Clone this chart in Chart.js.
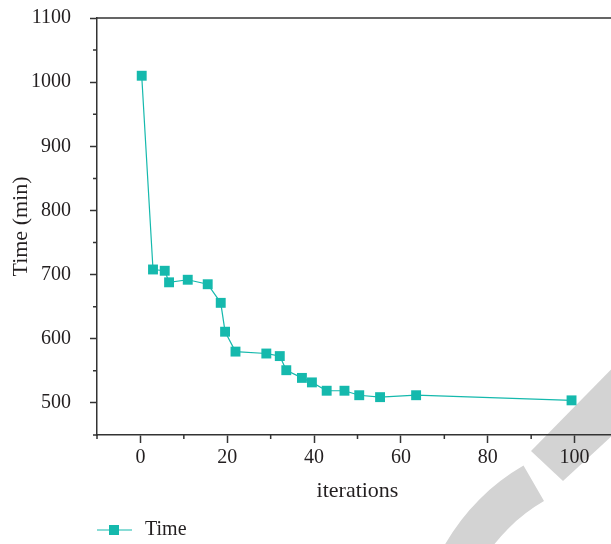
<!DOCTYPE html>
<html>
<head>
<meta charset="utf-8">
<script src="https://cdn.jsdelivr.net/npm/chart.js@4/dist/chart.umd.min.js"></script>
<style>
  html, body { margin: 0; padding: 0; background: #fff; overflow: hidden; }
  #wrap { width: 611px; height: 544px; overflow: hidden; }
</style>
</head>
<body>
<div id="wrap"><canvas id="myChart" width="640" height="544"></canvas></div>
<script>
// values
const iterations = [0.3, 2.9, 5.6, 6.6, 10.9, 15.5, 18.5, 19.5, 21.9, 29.0, 32.1, 33.6, 37.2, 39.5, 42.9, 47.0, 50.4, 55.2, 63.5, 99.3];
const timeMin = [1010, 708, 706, 688, 692, 685, 656, 611, 580, 577, 573, 551, 539, 532, 519, 519, 512, 509, 512, 504];
const xTicks = [0, 20, 40, 60, 80, 100];
const yTicks = [500, 600, 700, 800, 900, 1000, 1100];
const seriesName = "Time";

const teal = "#15b9ad";
const axisColor = "#333333";
const textColor = "#231f20";
const serif = "'Liberation Serif', 'DejaVu Serif', serif";

let points = [];
for (let i = 0; i < iterations.length; i++) {
	points.push({ x: iterations[i], y: timeMin[i] });
}

// minor ticks, top frame line, legend and the grey watermark
const extras = {
	id: "extras",
	beforeDraw(chart) {
		const ctx = chart.ctx;
		ctx.save();
		ctx.fillStyle = "#d3d3d3";
		ctx.beginPath();
		ctx.moveTo(531, 451);
		ctx.lineTo(640, 340);
		ctx.lineTo(640, 410);
		ctx.lineTo(563, 481);
		ctx.closePath();
		ctx.fill();
		ctx.beginPath();
		ctx.arc(630, 650, 213, Math.PI, Math.PI * 4 / 3);
		ctx.arc(630, 650, 172, Math.PI * 4 / 3, Math.PI, true);
		ctx.closePath();
		ctx.fill();
		ctx.restore();
	},
	afterDraw(chart) {
		const ctx = chart.ctx;
		const area = chart.chartArea;
		const xs = chart.scales.x;
		const ys = chart.scales.y;
		ctx.save();
		ctx.strokeStyle = axisColor;
		ctx.lineWidth = 1.5;
		ctx.beginPath();
		for (let v = -10; v <= 110; v += 20) {
			const px = xs.getPixelForValue(v);
			ctx.moveTo(px, area.bottom);
			ctx.lineTo(px, area.bottom + 4);
		}
		for (let v = 450; v <= 1050; v += 100) {
			const py = ys.getPixelForValue(v);
			ctx.moveTo(area.left, py);
			ctx.lineTo(area.left - 4, py);
		}
		ctx.moveTo(area.left, area.top);
		ctx.lineTo(area.right, area.top);
		ctx.moveTo(area.right, area.top);
		ctx.lineTo(area.right, area.bottom);
		ctx.stroke();

		// legend
		const ly = 530;
		ctx.strokeStyle = teal;
		ctx.lineWidth = 1.2;
		ctx.beginPath();
		ctx.moveTo(97, ly);
		ctx.lineTo(132, ly);
		ctx.stroke();
		ctx.fillStyle = teal;
		ctx.fillRect(109, ly - 5, 10, 10);
		ctx.fillStyle = textColor;
		ctx.font = "20px " + serif;
		ctx.textBaseline = "middle";
		ctx.fillText(seriesName, 145, ly);
		ctx.restore();
	}
};

const config = {
	type: "scatter",
	data: {
		datasets: [{
			label: seriesName,
			data: points,
			showLine: true,
			borderColor: teal,
			borderWidth: 1.2,
			pointStyle: "rect",
			pointRadius: 7,
			pointHoverRadius: 7,
			pointBackgroundColor: teal,
			pointBorderWidth: 0
		}]
	},
	options: {
		responsive: false,
		devicePixelRatio: 1,
		animation: false,
		layout: { padding: { left: 0, top: 18, right: 22, bottom: 39 } },
		plugins: { legend: { display: false }, tooltip: { enabled: false } },
		scales: {
			x: {
				type: "linear",
				min: -10,
				max: 110,
				afterFit: s => { s.height = 70; s.paddingLeft = 0; s.paddingRight = 0; },
				afterBuildTicks: s => { s.ticks = xTicks.map(v => ({ value: v })); },
				border: { color: axisColor, width: 1.5 },
				grid: { drawOnChartArea: false, tickLength: 8, tickWidth: 1.5, tickColor: axisColor },
				ticks: { autoSkip: false, maxRotation: 0, padding: 3, color: textColor, font: { family: serif, size: 20 }, callback: v => String(v) },
				title: { display: true, text: "iterations", color: textColor, padding: { top: 4, bottom: 1 }, font: { family: serif, size: 22 } }
			},
			y: {
				min: 450,
				max: 1100,
				afterFit: s => { s.width = 97; s.paddingTop = 0; s.paddingBottom = 0; },
				afterBuildTicks: s => { s.ticks = yTicks.map(v => ({ value: v })); },
				border: { color: axisColor, width: 1.5 },
				grid: { drawOnChartArea: false, tickLength: 7, tickWidth: 1.5, tickColor: axisColor },
				ticks: { autoSkip: false, padding: 19, color: textColor, font: { family: serif, size: 20 }, callback: v => String(v) },
				title: { display: true, text: "Time (min)", color: textColor, padding: { top: 8, bottom: 0 }, font: { family: serif, size: 22 } }
			}
		}
	},
	plugins: [extras]
};

new Chart(document.getElementById("myChart").getContext("2d"), config);
</script>
</body>
</html>
